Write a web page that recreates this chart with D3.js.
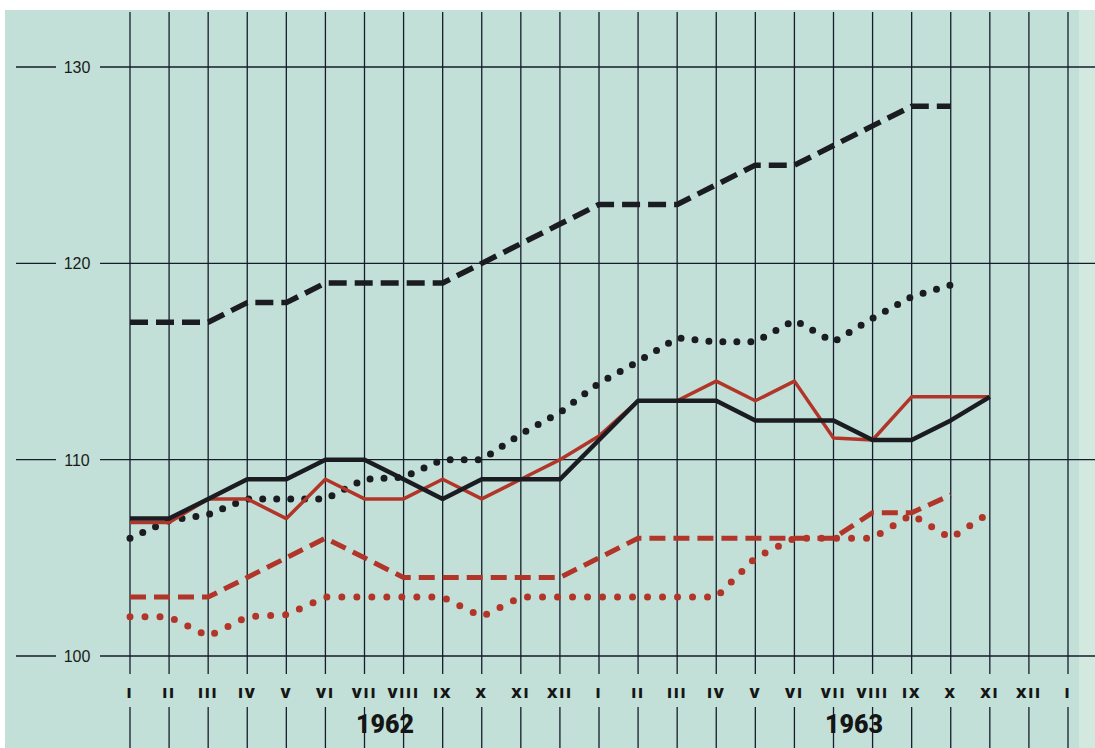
<!DOCTYPE html>
<html>
<head>
<meta charset="utf-8">
<script src="https://cdn.jsdelivr.net/npm/d3@7"></script>
<style>
body{margin:0;background:#fff}
svg{display:block}
</style>
</head>
<body>
<svg width="1095" height="748"></svg>
<script>
// months from I 1962 to I 1964
const months=["I","II","III","IV","V","VI","VII","VIII","IX","X","XI","XII",
"I","II","III","IV","V","VI","VII","VIII","IX","X","XI","XII","I"]
const years=[{label:"1962",at:6.5},{label:"1963",at:18.5}]
const yTicks=[100,110,120,130]

// series, index 0 = I 1962
const blackDashed=[117,117,117,118,118,119,119,119,119,120,121,122,
123,123,123,124,125,125,126,127,128,128]
const blackDotted=[106,106.9,107.2,108,108,108,109,109.1,110,110,111.3,112.4,
113.9,115,116.2,116,116,117.1,116,117.2,118.3,118.9]
const blackSolid=[107,107,108,109,109,110,110,109,108,109,109,109,
111,113,113,113,112,112,112,111,111,112,113.2]
const redSolid=[106.8,106.8,108,108,107,109,108,108,109,108,109,110,
111.2,113,113,114,113,114,111.1,111,113.2,113.2,113.2]
const redDashed=[103,103,103,104,105,106,105,104,104,104,104,104,
105,106,106,106,106,106,106,107.3,107.3,108.2]
const redDotted=[102,102,101,102,102.1,103,103,103,103,102,103,103,
103,103,103,103,105,106,106,106,107.2,106,107.3]

const svg=d3.select("svg")
const W=1095,H=748
const red="#b2352a",ink="#1a1c22",grid="#161c2b"

const x=d3.scaleLinear().domain([0,24]).range([130,1068])
const y=d3.scaleLinear().domain([100,130]).range([656,67])

// paper
svg.append("rect").attr("x",5).attr("y",10).attr("width",W-5).attr("height",H-10).attr("fill","#c2e0d7")
svg.append("rect").attr("x",1079).attr("y",10).attr("width",16).attr("height",H-10).attr("fill","#d3e8df")

// vertical grid, broken where month labels sit
const vg=svg.append("g")
months.forEach((m,i)=>{
vg.append("line").attr("x1",x(i)).attr("x2",x(i)).attr("y1",12).attr("y2",674)
.attr("stroke",grid).attr("stroke-width",1.3)
vg.append("line").attr("x1",x(i)).attr("x2",x(i)).attr("y1",707).attr("y2",H)
.attr("stroke",grid).attr("stroke-width",1.3)
})

// horizontal grid + labels
yTicks.forEach(t=>{
svg.append("line").attr("x1",16).attr("x2",56).attr("y1",y(t)).attr("y2",y(t))
.attr("stroke",grid).attr("stroke-width",1.3)
svg.append("line").attr("x1",100).attr("x2",W).attr("y1",y(t)).attr("y2",y(t))
.attr("stroke",grid).attr("stroke-width",1.3)
svg.append("text").attr("x",77).attr("y",y(t)+6).attr("text-anchor","middle")
.attr("font-family","Liberation Sans, Arial, sans-serif").attr("font-size",16)
.attr("fill","#1a1a1a").text(t)
})

// month labels
svg.append("g").selectAll("text").data(months).join("text")
.attr("x",(d,i)=>x(i)).attr("y",698).attr("text-anchor","middle")
.attr("font-family","Open Sans, sans-serif").attr("font-weight","800")
.attr("font-size",14.5).attr("letter-spacing",1.8).attr("fill","#151515")
.text(d=>d)

// years
svg.append("g").selectAll("text").data(years).join("text")
.attr("x",d=>x(d.at)+1).attr("y",733).attr("text-anchor","middle")
.attr("font-family","Roboto, sans-serif").attr("font-weight","900")
.attr("font-size",25).attr("fill","#151515")
.text(d=>d.label)

const line=d3.line().x((d,i)=>x(i)).y(d=>y(d))

const draw=(data,color,width,dash)=>{
svg.append("path").datum(data).attr("d",line).attr("fill","none")
.attr("stroke",color).attr("stroke-width",width)
.attr("stroke-dasharray",dash||null)
.attr("stroke-linecap",dash&&dash.startsWith("0")?"round":"butt")
.attr("stroke-linejoin","round")
}

draw(redDashed,red,5,"16,8")
draw(redDotted,red,7,"0,15")
draw(blackDashed,ink,5.5,"18,8")
draw(blackDotted,ink,7,"0,14")
draw(redSolid,red,3.5)
draw(blackSolid,ink,4.5)
</script>
</body>
</html>
